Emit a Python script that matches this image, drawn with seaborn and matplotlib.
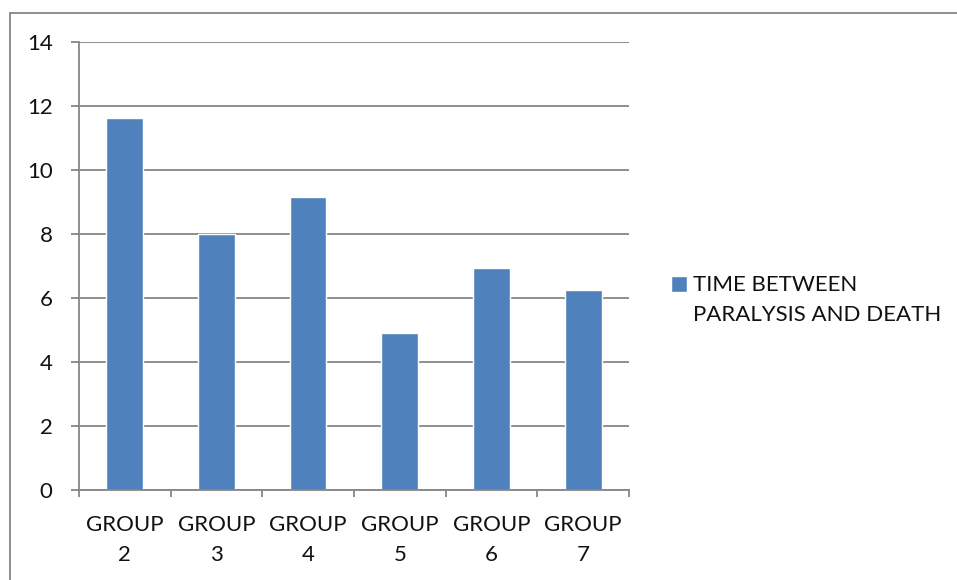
import numpy as np
import seaborn as sns
import matplotlib.pyplot as plt
from matplotlib.patches import Rectangle
from matplotlib.container import BarContainer
from matplotlib.legend_handler import HandlerPatch, update_from_first_child

# chart data
groups = ["GROUP\n2", "GROUP\n3", "GROUP\n4", "GROUP\n5", "GROUP\n6", "GROUP\n7"]
values = [11.64, 8.0, 9.16, 4.91, 6.95, 6.24]
series_name = "TIME BETWEEN\nPARALYSIS AND DEATH"

sns.set_style("white")
plt.rcParams['font.family'] = ['Lato', 'DejaVu Sans']
fs = 16

fig = plt.figure(figsize=(9.57, 5.8), dpi=100)
ax = fig.add_axes([79/957, 1-490/580, 550/957, 448/580])

grey = "#868686"
sns.barplot(x=groups, y=values, color="#4F81BD", width=0.4, saturation=1,
            label=series_name, ax=ax)

ax.set_ylim(0, 14)
ax.set_xlim(-0.5, len(groups) - 0.5)
ax.set_yticks(np.arange(0, 15, 2))
ax.yaxis.grid(True, color=grey, linewidth=1.3)
ax.set_axisbelow(True)
for s in ["top", "right"]:
    ax.spines[s].set_visible(False)
for s in ["left", "bottom"]:
    ax.spines[s].set_color(grey)
    ax.spines[s].set_linewidth(1.3)

# category boundaries as major ticks, labels on minor ticks
ax.set_xticks(np.arange(-0.5, len(groups)), labels=[""] * (len(groups) + 1))
ax.set_xticks(np.arange(len(groups)), labels=groups, minor=True)
ax.tick_params(axis="x", which="major", length=5, width=1.3, color=grey, direction="out", bottom=True)
ax.tick_params(axis="x", which="minor", length=0, pad=18, labelsize=fs, labelcolor="#111111")
ax.tick_params(axis="y", length=6, width=1.3, color=grey, direction="out", left=True,
               labelsize=fs, pad=13, labelcolor="#111111")
for t in ax.get_xticklabels(minor=True):
    t.set_linespacing(1.65)
ax.set_xlabel("")


# square marker sitting next to the first line of the legend text
def top_square(legend, orig_handle, xdescent, ydescent, width, height, fontsize):
    sq = width
    return Rectangle((-xdescent, -ydescent + height - sq + 6), sq, sq)


ax.legend(loc="upper left", bbox_to_anchor=(671/957, 1-275/580), bbox_transform=fig.transFigure,
          frameon=False, fontsize=fs, handlelength=0.72, handleheight=2.0,
          handletextpad=0.27, borderpad=0, borderaxespad=0, labelcolor="#111111",
          handler_map={BarContainer: HandlerPatch(patch_func=top_square,
                                                  update_func=update_from_first_child)})
for t in ax.get_legend().get_texts():
    t.set_linespacing(1.65)

fig.patches.append(Rectangle((9.5/957, -0.01), 1, 1 - 13/580 + 0.01, transform=fig.transFigure,
                             fill=False, edgecolor=grey, linewidth=1.3))

fig.savefig("out.png", dpi=100)
